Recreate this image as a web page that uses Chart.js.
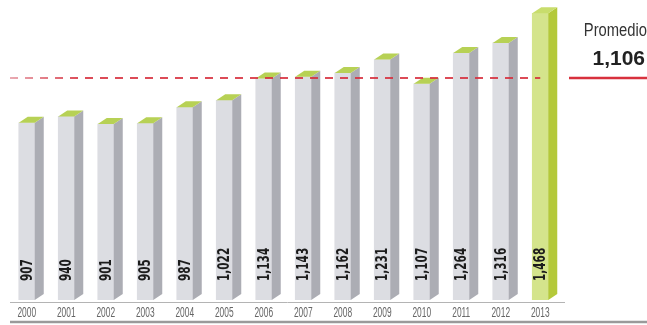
<!DOCTYPE html>
<html>
<head>
<meta charset="utf-8">
<script src="https://cdn.jsdelivr.net/npm/chart.js@4.4.1/dist/chart.umd.min.js"></script>
<style>
  html, body { margin: 0; padding: 0; background: #fff; }
  #wrap { width: 647px; height: 325px; }
</style>
</head>
<body>
<div id="wrap"><canvas id="barChart"></canvas></div>
<script>
const years = ['2000', '2001', '2002', '2003', '2004', '2005', '2006', '2007', '2008', '2009', '2010', '2011', '2012', '2013'];
const values = [907, 940, 901, 905, 987, 1022, 1134, 1143, 1162, 1231, 1107, 1264, 1316, 1468];
const valueLabels = ['907', '940', '901', '905', '987', '1,022', '1,134', '1,143', '1,162', '1,231', '1,107', '1,264', '1,316', '1,468'];
const average = 1106;
const averageLabel = '1,106';

const last = years.length - 1;
const frontColors = years.map((y, i) => i === last ? '#d4e48c' : '#dcdde2');
const sideColors = years.map((y, i) => i === last ? '#b4c93a' : '#acadb4');
const topColors = years.map((y, i) => i === last ? '#c8dd6c' : '#b7d155');

// fake depth of the columns
const dx = 9, dy = 6;

// no condensed face installed, so squeeze the text horizontally
function narrowText(ctx, text, x, y, sx) {
  ctx.save();
  ctx.translate(x, y);
  ctx.scale(sx, 1);
  ctx.fillText(text, 0, 0);
  ctx.restore();
}

const columns3d = {
  id: 'columns3d',
  beforeDatasetsDraw(chart) {
    const { ctx, chartArea } = chart;
    ctx.save();
    // thin base line under the columns
    ctx.strokeStyle = '#b4b4b4';
    ctx.lineWidth = 1;
    ctx.beginPath();
    ctx.moveTo(chartArea.left + 3, chartArea.bottom + 2.5);
    ctx.lineTo(chartArea.right + 5, chartArea.bottom + 2.5);
    ctx.stroke();
    // heavy rule at the bottom
    ctx.strokeStyle = '#9a9a9a';
    ctx.lineWidth = 2.5;
    ctx.beginPath();
    ctx.moveTo(chartArea.left + 3, chart.height - 3);
    ctx.lineTo(chart.width, chart.height - 3);
    ctx.stroke();
    ctx.restore();
  },
  afterDatasetsDraw(chart) {
    const { ctx, chartArea } = chart;
    const meta = chart.getDatasetMeta(0);
    const xScale = chart.scales.x;
    ctx.save();
    meta.data.forEach((bar, i) => {
      const half = bar.width / 2;
      const l = bar.x - half, r = bar.x + half;
      ctx.fillStyle = sideColors[i];
      ctx.beginPath();
      ctx.moveTo(r, bar.y);
      ctx.lineTo(r + dx, bar.y - dy);
      ctx.lineTo(r + dx, bar.base - dy);
      ctx.lineTo(r, bar.base);
      ctx.closePath();
      ctx.fill();
      ctx.fillStyle = topColors[i];
      ctx.beginPath();
      ctx.moveTo(l, bar.y);
      ctx.lineTo(l + dx, bar.y - dy);
      ctx.lineTo(r + dx, bar.y - dy);
      ctx.lineTo(r, bar.y);
      ctx.closePath();
      ctx.fill();
    });

    // year labels along the bottom
    ctx.fillStyle = '#666';
    ctx.font = '14px "Liberation Sans", Arial, sans-serif';
    ctx.textAlign = 'center';
    ctx.textBaseline = 'middle';
    years.forEach((y, i) => {
      narrowText(ctx, y, xScale.getPixelForValue(i), chartArea.bottom + 13, 0.6);
    });

    // average line, dashed across the columns
    const ay = chart.scales.y.getPixelForValue(average) - dy;
    const x0 = chartArea.left + 3;
    const grad = ctx.createLinearGradient(x0, 0, x0 + 70, 0);
    grad.addColorStop(0, 'rgba(228,150,160,0.8)');
    grad.addColorStop(1, 'rgba(214,44,58,0.85)');
    ctx.strokeStyle = grad;
    ctx.lineWidth = 2;
    ctx.setLineDash([8, 7]);
    ctx.beginPath();
    ctx.moveTo(x0, ay);
    ctx.lineTo(meta.data[last].x, ay);
    ctx.stroke();
    ctx.setLineDash([]);
    ctx.strokeStyle = '#d8313d';
    ctx.lineWidth = 2.5;
    ctx.beginPath();
    ctx.moveTo(chartArea.right + 9, ay);
    ctx.lineTo(chart.width, ay);
    ctx.stroke();

    ctx.textAlign = 'right';
    ctx.fillStyle = '#333';
    ctx.font = '18px "Liberation Sans", Arial, sans-serif';
    narrowText(ctx, 'Promedio', chart.width, ay - 47, 0.82);
    ctx.fillStyle = '#222';
    ctx.font = 'bold 21px "Liberation Sans", Arial, sans-serif';
    narrowText(ctx, averageLabel, chart.width - 2, ay - 19, 1);

    // values written up the front of each column
    ctx.fillStyle = '#1c1c1c';
    ctx.font = 'bold 15px "DejaVu Sans", sans-serif';
    ctx.textAlign = 'left';
    meta.data.forEach((bar, i) => {
      ctx.save();
      ctx.translate(bar.x + 1, bar.base - 19);
      ctx.rotate(-Math.PI / 2);
      narrowText(ctx, valueLabels[i], 0, 0, 0.7);
      ctx.restore();
    });
    ctx.restore();
  }
};

new Chart(document.getElementById('barChart'), {
  type: 'bar',
  data: {
    labels: years,
    datasets: [{
      data: values,
      backgroundColor: frontColors,
      borderWidth: 0,
      barThickness: 16
    }]
  },
  options: {
    responsive: true,
    maintainAspectRatio: false,
    animation: false,
    layout: { padding: { left: 7, right: 87, top: 7, bottom: 25 } },
    plugins: { legend: { display: false }, tooltip: { enabled: false } },
    scales: {
      x: { display: false },
      y: { display: false, min: 0, max: 1500 }
    }
  },
  plugins: [columns3d]
});
</script>
</body>
</html>
